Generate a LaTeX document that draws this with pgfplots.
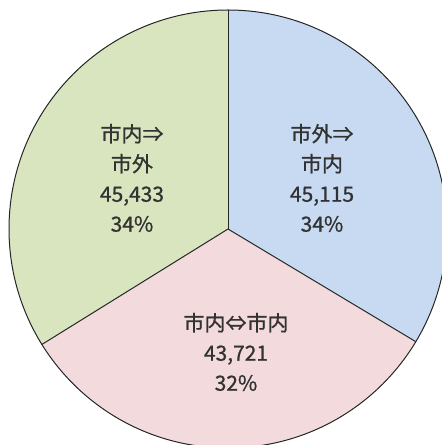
\documentclass[border=0pt]{standalone}
\usepackage{pgfplots}
\pgfplotsset{compat=1.18}
\usepackage{pgfplotstable}
\usepackage{fontspec}
\setmainfont{Noto Sans CJK JP}
\newfontfamily\lab{Noto Sans CJK JP}[BoldFont={Noto Sans CJK JP}, BoldFeatures={FakeBold=0.8}]
\definecolor{sliceblue}{RGB}{199,218,242}
\definecolor{slicepink}{RGB}{243,219,221}
\definecolor{slicegreen}{RGB}{216,229,190}
\definecolor{txt}{RGB}{50,50,50}
\pgfplotstableread{
label value
a 45115
b 43721
c 45433
}\piedata
\begin{document}
\begin{tikzpicture}
\pgfplotstablegetelem{0}{value}\of\piedata \edef\va{\pgfplotsretval}
\pgfplotstablegetelem{1}{value}\of\piedata \edef\vb{\pgfplotsretval}
\pgfplotstablegetelem{2}{value}\of\piedata \edef\vc{\pgfplotsretval}
\edef\aA{90}
\edef\aB{\fpeval{round(90-360*\va/(\va+\vb+\vc),4)}}
\edef\aC{\fpeval{round(\aB-360*\vb/(\va+\vb+\vc),4)}}
\edef\aD{\fpeval{round(\aC-360*\vc/(\va+\vb+\vc),4)}}
\begin{axis}[
  width=442bp, height=445bp, scale only axis,
  xmin=-228, xmax=214, ymin=-216, ymax=229,
  hide axis, clip=true,
]
\fill[sliceblue] (axis cs:0,0) -- ({219*cos(\aA)},{219*sin(\aA)}) arc[start angle=\aA, end angle=\aB, radius=219] -- cycle;
\fill[slicepink] (axis cs:0,0) -- ({219*cos(\aB)},{219*sin(\aB)}) arc[start angle=\aB, end angle=\aC, radius=219] -- cycle;
\fill[slicegreen] (axis cs:0,0) -- ({219*cos(\aC)},{219*sin(\aC)}) arc[start angle=\aC, end angle=\aD, radius=219] -- cycle;
\draw[black!85, line width=1bp] (axis cs:0,0) circle[radius=219];
\draw[black!85, line width=1bp] (axis cs:0,0) -- ({219*cos(\aA)},{219*sin(\aA)});
\draw[black!85, line width=1bp] (axis cs:0,0) -- ({219*cos(\aB)},{219*sin(\aB)});
\draw[black!85, line width=1bp] (axis cs:0,0) -- ({219*cos(\aC)},{219*sin(\aC)});
\node[txt, align=center, font=\lab\bfseries\fontsize{21bp}{30bp}\selectfont] at (axis cs:94,51) {市外⇒\\市内\\45,115\\34\%};
\node[txt, align=center, font=\lab\bfseries\fontsize{21bp}{30bp}\selectfont] at (axis cs:-96,51) {市内⇒\\市外\\45,433\\34\%};
\node[txt, align=center, font=\lab\bfseries\fontsize{21bp}{30bp}\selectfont] at (axis cs:8,-123) {市内⇔市内\\43,721\\32\%};
\end{axis}
\pgfresetboundingbox
\path (current axis.south west) rectangle (current axis.north east);
\end{tikzpicture}
\end{document}
